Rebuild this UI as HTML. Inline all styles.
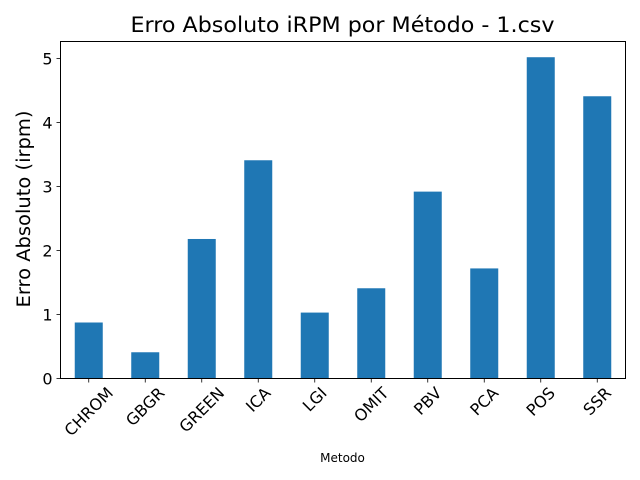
<!DOCTYPE html>
<html><head><meta charset="utf-8"><style>body{margin:0;background:#fff}svg{display:block}text{font-family:"DejaVu Sans","Liberation Sans",sans-serif;fill:#000}</style></head>
<body>
<svg id="chart" width="640" height="480" viewBox="0 0 640 480">
<text x="342.5" y="32" font-size="21" text-anchor="middle" textLength="424" lengthAdjust="spacingAndGlyphs">Erro Absoluto iRPM por Método - 1.csv</text>
<text x="342.5" y="462" font-size="12" text-anchor="middle">Metodo</text>
<text transform="translate(30,209) rotate(-90)" font-size="18.5" text-anchor="middle" textLength="197" lengthAdjust="spacingAndGlyphs">Erro Absoluto (irpm)</text>
<g id="bars"></g><g id="axes"></g>
</svg>
<script>
const categories=["CHROM","GBGR","GREEN","ICA","LGI","OMIT","PBV","PCA","POS","SSR"];
const values=[0.875,0.41,2.18,3.41,1.03,1.41,2.92,1.72,5.02,4.41];
const yTicks=[0,1,2,3,4,5];
const L=60.5,R=625.5,T=41.5,B=378.5,NS="http://www.w3.org/2000/svg";
const step=(R-L)/categories.length;
const x=i=>L+step*(i+0.5);
const y=v=>B-v*64;
const bars=document.getElementById('bars'),axes=document.getElementById('axes');
function mk(t,a,p){const e=document.createElementNS(NS,t);for(const k in a)e.setAttribute(k,a[k]);p.appendChild(e);return e;}
categories.forEach((c,i)=>{
 const r=mk('rect',{x:x(i)-14,y:y(values[i]),width:28,height:B-y(values[i]),fill:'#1f77b4'},bars);
 
 
 mk('line',{x1:x(i),x2:x(i),y1:B,y2:B+4,stroke:'#000','stroke-width':0.8},axes);
 const t=mk('text',{x:0,y:5.5,'font-size':16,'text-anchor':'middle'},axes);
 t.textContent=c;
 const w=t.getComputedTextLength();
 const half=(w+16)*0.7071/2;
 t.setAttribute('transform',`translate(${x(i)},${B+6+half}) rotate(-45)`);
 
 
});
yTicks.forEach(v=>{
 mk('line',{x1:L-4,x2:L,y1:y(v),y2:y(v),stroke:'#000','stroke-width':0.8},axes);
 const t=mk('text',{x:L-8,y:y(v)+6,'font-size':16,'text-anchor':'end'},axes);
 t.textContent=v;
 
 
});
const f=mk('rect',{x:L,y:T,width:R-L,height:B-T,fill:'none',stroke:'#000','stroke-width':1},axes);


</script>
</body></html>
